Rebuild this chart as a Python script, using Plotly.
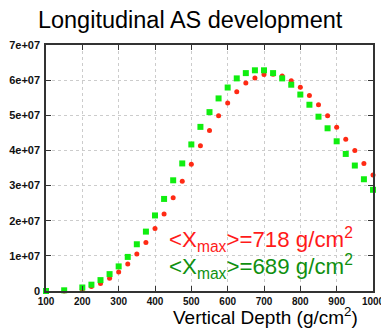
import plotly.graph_objects as go

depth = [100, 150, 200, 225, 250, 275, 300, 325, 350, 375, 400, 425, 450, 475,
         500, 525, 550, 575, 600, 625, 650, 675, 700, 725, 750, 775, 800, 825,
         850, 875, 900, 925, 950, 975, 1000]

# particle numbers, units of 1e7
red_n = [0, 0, 0.05, 0.125, 0.21, 0.36, 0.54, 0.77, 1.05, 1.38, 1.78, 2.19, 2.65, 3.12,
         3.61, 4.13, 4.57, 4.99, 5.35, 5.67, 5.92, 6.06, 6.16, 6.17, 6.12, 5.98, 5.80, 5.56,
         5.30, 4.99, 4.66, 4.32, 4.00, 3.63, 3.30]
green_n = [0, 0.02, 0.10, 0.18, 0.31, 0.48, 0.70, 0.97, 1.33, 1.69, 2.15, 2.62, 3.15, 3.63,
           4.17, 4.67, 5.09, 5.48, 5.79, 6.05, 6.20, 6.28, 6.28, 6.20, 6.05, 5.87, 5.59, 5.30,
           4.96, 4.63, 4.26, 3.90, 3.57, 3.18, 2.88]

xticks = [100, 200, 300, 400, 500, 600, 700, 800, 900, 1000]
yticks = [0, 1e7, 2e7, 3e7, 4e7, 5e7, 6e7, 7e7]
yticktext = ["0", "1e+07", "2e+07", "3e+07", "4e+07", "5e+07", "6e+07", "7e+07"]

xmax_red = "&lt;X<sub>max</sub>&gt;=718 g/cm<sup>2</sup>"
xmax_green = "&lt;X<sub>max</sub>&gt;=689 g/cm<sup>2</sup>"

FONT = "Liberation Sans, Arial"

fig = go.Figure()
fig.add_trace(go.Scatter(x=depth, y=[v * 1e7 for v in red_n], mode="markers",
                         marker=dict(symbol="circle", size=5, color="#ff2a14"),
                         cliponaxis=False))
fig.add_trace(go.Scatter(x=depth, y=[v * 1e7 for v in green_n], mode="markers",
                         marker=dict(symbol="square", size=6, color="#10ee10"),
                         cliponaxis=False))

axis_style = dict(showline=True, linecolor="#333333", linewidth=1.5, mirror="ticks",
                  ticks="inside", ticklen=5, tickcolor="#333333", automargin=False,
                  showgrid=True, gridcolor="#cccccc", griddash="dot", gridwidth=1,
                  zeroline=False)

# page body has an 8px margin, so the figure is sized to fit inside the window
fig.update_layout(
    width=381, height=327,
    margin=dict(l=38, r=16, t=37, b=44),
    paper_bgcolor="white", plot_bgcolor="white",
    showlegend=False,
    title=dict(text="Longitudinal AS development", x=0.478, xanchor="center",
               y=0.965, yanchor="middle",
               font=dict(family=FONT, size=23.5, color="black")),
    xaxis=dict(range=[100, 1000], tickvals=xticks,
               tickfont=dict(family=FONT, size=10, color="#111111", weight="bold"),
               **axis_style),
    yaxis=dict(range=[0, 7e7], tickvals=yticks, ticktext=yticktext, ticklabelstandoff=2,
               tickfont=dict(family=FONT, size=11, color="#111111", weight="bold"),
               **axis_style),
)

fig.add_annotation(text=xmax_red, xref="paper", yref="paper", x=0.945, y=0.21,
                   xanchor="right", yanchor="middle", showarrow=False,
                   font=dict(family=FONT, size=22.3, color="#ff1a1a"))
fig.add_annotation(text=xmax_green, xref="paper", yref="paper", x=0.945, y=0.1,
                   xanchor="right", yanchor="middle", showarrow=False,
                   font=dict(family=FONT, size=22.3, color="#109010"))
fig.add_annotation(text="Vertical Depth (g/cm<sup>2</sup>)", xref="paper", yref="paper",
                   x=0.96, y=-0.102, xanchor="right", yanchor="middle", showarrow=False,
                   font=dict(family=FONT, size=19, color="black"))

fig.write_html("out.html")
